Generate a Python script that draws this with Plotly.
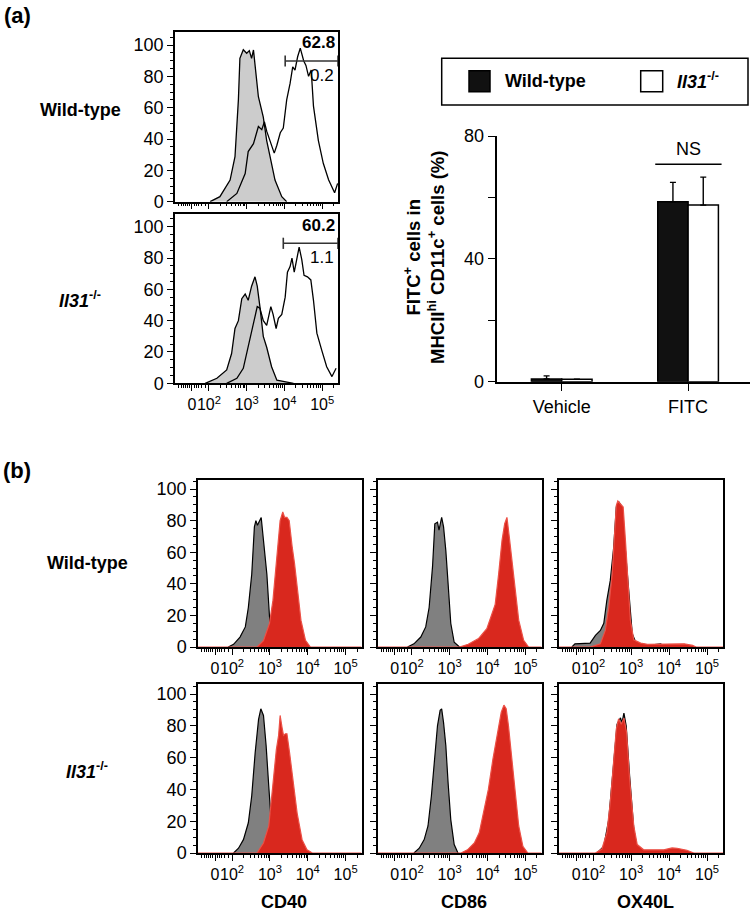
import math
import plotly.graph_objects as go

W, H = 750, 913
FONT = "Liberation Sans, Arial, sans-serif"

# ---------------- data ----------------
# (a) FITC histograms, x in log10 display units (0 drawn at 1.55), y = % of max
a_wt_veh_x = [2.03, 2.29, 2.56, 2.69, 2.78, 2.82, 2.91, 3.00, 3.07, 3.13, 3.18, 3.22, 3.31, 3.44, 3.53, 3.62, 3.75, 3.93, 4.06]
a_wt_veh_y = [0, 3.2, 13.8, 28.7, 65, 91.5, 97, 94.7, 96.4, 91.5, 96.8, 86, 67, 54, 39, 28.7, 13.8, 3.2, 0]
a_wt_fitc_x = [2.47, 2.74, 2.96, 3.04, 3.18, 3.31, 3.40, 3.47, 3.53, 3.62, 3.73, 3.80, 3.89, 3.97, 4.06,
               4.15, 4.22, 4.28, 4.35, 4.42, 4.51, 4.57, 4.64, 4.71, 4.77, 4.90, 5.03, 5.17, 5.33, 5.41]
a_wt_fitc_y = [0, 5.3, 18, 32, 37, 48, 46, 51, 45, 38, 31, 36, 44, 47, 65,
               75.5, 86, 84, 92.5, 98, 90, 87, 80, 84, 61, 39, 24.5, 14, 5.7, 11.7]

a_ko_veh_x = [1.90, 2.21, 2.47, 2.60, 2.69, 2.78, 2.87, 2.96, 3.04, 3.13, 3.22, 3.28, 3.35, 3.44, 3.53, 3.66, 3.80, 4.06, 4.24]
a_ko_veh_y = [0, 3.2, 8.5, 19, 35, 40, 54, 57, 53, 62, 68, 62, 49, 30, 23, 10.6, 2, 1, 0]
a_ko_fitc_x = [2.47, 2.74, 2.91, 3.04, 3.18, 3.28, 3.35, 3.44, 3.53, 3.64, 3.70, 3.78, 3.84, 3.93, 4.02, 4.08,
               4.15, 4.20, 4.26, 4.31, 4.39, 4.46, 4.52, 4.61, 4.70, 4.77, 4.86, 4.99, 5.12, 5.26, 5.37]
a_ko_fitc_y = [0, 3.2, 9.6, 23, 39, 49, 48, 40, 37, 49, 44, 35, 41.5, 44, 55, 71,
               74.5, 80, 71, 78, 87, 79, 69, 68, 66, 53, 32, 21, 10.6, 4.3, 9.6]

# gates: (start, y, percent above, percent below)
gate_wt = [4.02, 89.8, "62.8", "0.2"]
gate_ko = [3.97, 89.4, "60.2", "1.1"]

# (a) bar chart
bar_groups = ["Vehicle", "FITC"]
bar_wt = [0.9, 58.6]
bar_wt_err = [1.0, 6.3]
bar_ko = [0.8, 57.5]
bar_ko_err = [0, 9.1]
ns_y = 70.8

# (b) CD40 / CD86 / OX40L histograms: isotype (gray) and stained (red)
cd40_wt_iso_x = [1.90, 2.04, 2.21, 2.35, 2.43, 2.52, 2.59, 2.63, 2.67, 2.72, 2.77, 2.83, 2.92, 2.99, 3.05, 3.10]
cd40_wt_iso_y = [0, 1.7, 6.3, 12.7, 25, 46, 76, 80, 77, 80, 82, 67.5, 46, 19, 4.2, 0]
cd40_wt_x = [1.10, 2.66, 2.83, 2.99, 3.08, 3.14, 3.20, 3.27, 3.34, 3.39, 3.45, 3.51, 3.59, 3.65, 3.74, 3.82, 3.94, 4.07, 5.42]
cd40_wt_y = [0, 0, 4, 15, 29.5, 46, 61, 80, 85.5, 82, 82, 80, 63, 53, 34, 17, 4.2, 0, 0]

cd86_wt_iso_x = [1.89, 2.06, 2.24, 2.37, 2.46, 2.55, 2.61, 2.68, 2.72, 2.79, 2.84, 2.90, 2.96, 3.03, 3.12, 3.26]
cd86_wt_iso_y = [0, 2, 6.3, 12.7, 25, 51, 78, 79, 74, 82, 76, 61, 40, 15, 3, 0]
cd86_wt_x = [1.10, 3.26, 3.49, 3.76, 3.98, 4.11, 4.20, 4.29, 4.38, 4.45, 4.51, 4.57, 4.64, 4.71, 4.82, 4.95, 5.08, 5.42]
cd86_wt_y = [0, 0, 1.7, 5.3, 11.6, 21, 27, 46, 67.5, 78, 82, 70, 55, 38, 17, 4.2, 0, 0]

ox40l_wt_iso_x = [1.44, 1.52, 1.92, 2.06, 2.19, 2.28, 2.36, 2.45, 2.54, 2.61, 2.67, 2.76, 2.85, 2.94, 3.03, 3.12, 3.25, 3.43, 3.78, 3.87]
ox40l_wt_iso_y = [0, 2, 2.5, 7.4, 10.5, 15, 29.5, 42, 63, 88.6, 92, 88.6, 61, 36, 8.4, 3, 2, 1, 2, 0]
ox40l_wt_x = [1.10, 1.92, 2.19, 2.32, 2.41, 2.50, 2.56, 2.61, 2.65, 2.72, 2.79, 2.85, 2.91, 2.98, 3.07, 3.25, 3.43, 3.96, 4.40, 4.62, 4.71, 5.42]
ox40l_wt_y = [0, 0, 2, 10.5, 25, 46, 70, 89.7, 92.4, 90.7, 88.6, 67.5, 42, 17, 4.6, 2.5, 1.7, 2, 2, 1, 0, 0]

cd40_ko_iso_x = [2.04, 2.17, 2.30, 2.43, 2.52, 2.61, 2.70, 2.76, 2.83, 2.90, 2.97, 3.03, 3.10, 3.17]
cd40_ko_iso_y = [0, 3, 8.4, 19, 36, 63, 84, 90.7, 86.5, 67.5, 42, 21, 4.2, 0]
cd40_ko_x = [1.10, 2.66, 2.83, 2.97, 3.05, 3.12, 3.17, 3.23, 3.27, 3.32, 3.36, 3.41, 3.45, 3.52, 3.61, 3.72, 3.85, 3.98, 4.12, 5.42]
cd40_ko_y = [0, 0, 6.3, 17, 36, 55, 65, 74, 86.5, 79, 74, 75, 75, 63, 46, 25, 8.4, 2, 0, 0]

cd86_ko_iso_x = [2.06, 2.20, 2.33, 2.43, 2.52, 2.61, 2.68, 2.75, 2.79, 2.84, 2.90, 2.96, 3.03, 3.12, 3.22]
cd86_ko_iso_y = [0, 3, 8.4, 17, 36, 61, 80, 89.7, 90.7, 82, 67.5, 44, 21, 5.3, 0]
cd86_ko_x = [1.10, 3.30, 3.47, 3.65, 3.78, 3.91, 4.02, 4.14, 4.25, 4.36, 4.43, 4.49, 4.55, 4.62, 4.71, 4.82, 4.93, 5.06, 5.42]
cd86_ko_y = [0, 0, 2, 6.3, 12.7, 27.4, 40, 59, 74, 88.6, 93, 90.7, 80, 63, 40, 17, 4.2, 0, 0]

ox40l_ko_iso_x = [2.10, 2.28, 2.41, 2.52, 2.63, 2.72, 2.76, 2.81, 2.87, 2.96, 3.07, 3.16, 3.29]
ox40l_ko_iso_y = [0, 4.2, 21, 53, 81, 85, 82, 88, 80, 48.5, 15, 3, 0]
ox40l_ko_x = [1.10, 2.06, 2.23, 2.36, 2.45, 2.54, 2.61, 2.67, 2.74, 2.81, 2.88, 2.96, 3.07, 3.16, 3.33, 3.86, 4.08, 4.21, 4.47, 4.65, 5.42]
ox40l_ko_y = [0, 0, 2.5, 12.7, 31.6, 59, 78, 84.4, 81, 84.8, 76, 46.4, 17, 5.3, 2, 2, 3.2, 3, 1.7, 0, 0]

marker_names = ["CD40", "CD86", "OX40L"]

# axis ticks for the logicle-like scale
x_major = [1.55, 2, 3, 4, 5]
x_major_text = ["0", "10<sup>2</sup>", "10<sup>3</sup>", "10<sup>4</sup>", "10<sup>5</sup>"]
x_minor = [1.2, 1.27, 1.33, 1.38, 1.43, 1.49, 1.62, 1.67, 1.73, 1.8, 1.9]
x_minor += [k + math.log10(m) for k in (2, 3, 4, 5) for m in range(2, 10) if k + math.log10(m) < 5.42]

# ---------------- layout helpers ----------------
def px_x(p):
    return p / W


def px_y(p):
    return 1 - p / H


layout = dict(width=W, height=H, margin=dict(l=0, r=0, t=0, b=0, autoexpand=False),
              template="none",
              paper_bgcolor="white", plot_bgcolor="white", showlegend=False,
              font=dict(family=FONT, color="black"), shapes=[], annotations=[])


def label(text, x, y, size, xanchor="center"):
    # free text placed in figure pixels
    layout["annotations"].append(dict(x=px_x(x), y=px_y(y), xref="paper", yref="paper",
                                      text=text, showarrow=False, xanchor=xanchor,
                                      yanchor="middle", font=dict(size=size)))


def hist_axes(n, left, right, top, zero, y100, xlayer="above traces", xlabels=True):
    s = "" if n == 1 else str(n)
    ymax = (zero - top) / ((zero - y100) / 100)
    layout["xaxis" + s] = dict(
        domain=[px_x(left), px_x(right)], range=[1.1, 5.42], anchor="y" + s,
        automargin=False, showticklabels=xlabels,
        tickmode="array", tickvals=x_major, ticktext=x_major_text, tickangle=0,
        ticks="outside", ticklen=6, tickwidth=1.2, tickcolor="black",
        tickfont=dict(size=16), showline=True, mirror=True, linecolor="black",
        linewidth=1.5, showgrid=False, zeroline=False, layer=xlayer,
        minor=dict(tickmode="array", tickvals=x_minor, ticks="outside",
                   ticklen=3, tickwidth=1, tickcolor="black", showgrid=False))
    layout["yaxis" + s] = dict(
        domain=[px_y(zero), px_y(top)], range=[0, ymax], anchor="x" + s,
        automargin=False,
        tickmode="array", tickvals=[0, 20, 40, 60, 80, 100],
        ticks="outside", ticklen=6, tickwidth=1.2, tickcolor="black",
        tickfont=dict(size=18), showline=True, mirror=True, linecolor="black",
        linewidth=1.5, showgrid=False, zeroline=False, layer=xlayer,
        minor=dict(dtick=5, ticks="outside", ticklen=3, tickwidth=1,
                   tickcolor="black", showgrid=False))
    return "x" + s, "y" + s


fig = go.Figure()

# ---------------- (a) histograms ----------------
a_panels = [
    (1, 32, 201.7, 45, a_wt_veh_x, a_wt_veh_y, a_wt_fitc_x, a_wt_fitc_y, gate_wt, False),
    (2, 214, 383.3, 226.7, a_ko_veh_x, a_ko_veh_y, a_ko_fitc_x, a_ko_fitc_y, gate_ko, True),
]
for n, top, zero, y100, vx, vy, fx, fy, gate, lab in a_panels:
    xa, ya = hist_axes(n, 175, 338, top, zero, y100, xlabels=lab)
    fig.add_trace(go.Scatter(x=vx, y=vy, mode="lines", fill="tozeroy",
                             fillcolor="rgb(204,204,204)",
                             line=dict(color="black", width=1.3),
                             xaxis=xa, yaxis=ya))
    fig.add_trace(go.Scatter(x=fx, y=fy, mode="lines",
                             line=dict(color="black", width=1.3),
                             xaxis=xa, yaxis=ya))
    g0, gy, above, below = gate
    fig.add_trace(go.Scatter(x=[g0, 5.42], y=[gy, gy], mode="lines+markers",
                             line=dict(color="#333333", width=1.6),
                             marker=dict(symbol="line-ns", size=8,
                                         line=dict(color="#333333", width=1.6)),
                             cliponaxis=False, xaxis=xa, yaxis=ya))
    layout["annotations"].append(dict(x=5.39, y=gy + 11.5, xref=xa, yref=ya,
                                      text="<b>" + above + "</b>", showarrow=False,
                                      xanchor="right", yanchor="middle", font=dict(size=17)))
    layout["annotations"].append(dict(x=5.36, y=gy - 9, xref=xa, yref=ya,
                                      text=below, showarrow=False,
                                      xanchor="right", yanchor="middle", font=dict(size=17)))

# ---------------- (a) bar chart ----------------
layout["xaxis3"] = dict(domain=[px_x(497.3), 1], range=[-0.51, 1.49], anchor="y3",
                        automargin=False,
                        type="category", showline=True, linecolor="black", linewidth=1.5,
                        ticks="outside", ticklen=8, tickwidth=1.2, tickcolor="black",
                        tickfont=dict(size=18), showgrid=False, zeroline=False)
layout["yaxis3"] = dict(domain=[px_y(381.7), px_y(136)], range=[0, 80], anchor="x3",
                        automargin=False,
                        tickmode="array", tickvals=[0, 20, 40, 60, 80],
                        ticktext=["0", "", "40", "", "80"],
                        showline=True, linecolor="black", linewidth=1.5,
                        ticks="outside", ticklen=8, tickwidth=1.2, tickcolor="black",
                        tickfont=dict(size=18), showgrid=False, zeroline=False)
layout["barmode"] = "group"
layout["bargap"] = 0.52
layout["bargroupgap"] = 0
err_style = dict(type="data", symmetric=False, color="black", thickness=1.4, width=3)
fig.add_trace(go.Bar(x=bar_groups, y=bar_wt, name="Wild-type",
                     marker=dict(color="#111111", line=dict(color="black", width=1.5)),
                     error_y=dict(array=bar_wt_err, arrayminus=[0, 0], **err_style),
                     xaxis="x3", yaxis="y3"))
fig.add_trace(go.Bar(x=bar_groups, y=bar_ko, name="Il31-/-",
                     marker=dict(color="white", line=dict(color="black", width=1.5)),
                     error_y=dict(array=bar_ko_err, arrayminus=[0, 0], **err_style),
                     xaxis="x3", yaxis="y3"))
layout["shapes"].append(dict(type="line", xref="x3", yref="y3", x0=0.74, x1=1.265,
                             y0=ns_y, y1=ns_y, line=dict(color="black", width=1.3)))
layout["annotations"].append(dict(x=1, y=ns_y + 5, xref="x3", yref="y3", text="NS",
                                  showarrow=False, yanchor="middle", font=dict(size=18)))
layout["annotations"].append(dict(x=px_x(424), y=px_y(258), xref="paper", yref="paper",
                                  xanchor="center", yanchor="middle",
                                  text="<b>FITC<sup>+</sup> cells in<br>MHCII<sup>hi</sup> CD11c<sup>+</sup> cells (%)</b>",
                                  textangle=-90, showarrow=False, font=dict(size=18.5)))

# legend box drawn by hand
layout["shapes"].append(dict(type="rect", xref="paper", yref="paper",
                             x0=px_x(441.7), x1=px_x(748), y0=px_y(105), y1=px_y(58.3),
                             line=dict(color="black", width=1.5)))
layout["shapes"].append(dict(type="rect", xref="paper", yref="paper",
                             x0=px_x(469), x1=px_x(490), y0=px_y(91.7), y1=px_y(70.7),
                             fillcolor="#111111", line=dict(color="black", width=1.5)))
layout["shapes"].append(dict(type="rect", xref="paper", yref="paper",
                             x0=px_x(640.7), x1=px_x(662.7), y0=px_y(91.7), y1=px_y(70.7),
                             fillcolor="white", line=dict(color="black", width=1.5)))
label("<b>Wild-type</b>", 503, 81, 18, xanchor="left")
label("<b><i>Il31</i><sup>-/-</sup></b>", 675, 81, 18, xanchor="left")

# ---------------- (b) histograms ----------------
cols = [(198, 361.5), (377.5, 541.5), (559, 723)]
rows = [(480, 647, 489), (684, 853, 694)]
b_data = [
    [(cd40_wt_iso_x, cd40_wt_iso_y, cd40_wt_x, cd40_wt_y),
     (cd86_wt_iso_x, cd86_wt_iso_y, cd86_wt_x, cd86_wt_y),
     (ox40l_wt_iso_x, ox40l_wt_iso_y, ox40l_wt_x, ox40l_wt_y)],
    [(cd40_ko_iso_x, cd40_ko_iso_y, cd40_ko_x, cd40_ko_y),
     (cd86_ko_iso_x, cd86_ko_iso_y, cd86_ko_x, cd86_ko_y),
     (ox40l_ko_iso_x, ox40l_ko_iso_y, ox40l_ko_x, ox40l_ko_y)],
]
n = 4
for r, (top, zero, y100) in enumerate(rows):
    for c, (left, right) in enumerate(cols):
        xa, ya = hist_axes(n, left, right, top, zero, y100, xlayer="below traces")
        if c > 0:
            layout["yaxis" + str(n)]["showticklabels"] = False
        ix, iy, sx, sy = b_data[r][c]
        fig.add_trace(go.Scatter(x=ix, y=iy, mode="lines", fill="tozeroy",
                                 fillcolor="rgb(128,128,128)",
                                 line=dict(color="black", width=1.2),
                                 xaxis=xa, yaxis=ya))
        fig.add_trace(go.Scatter(x=sx, y=sy, mode="lines", fill="tozeroy",
                                 fillcolor="rgb(217,40,30)",
                                 line=dict(color="rgb(236,80,70)", width=1.2),
                                 xaxis=xa, yaxis=ya))
        n += 1

for c, name in enumerate(marker_names):
    label("<b>" + name + "</b>", (cols[c][0] + cols[c][1]) / 2 + 4, 902, 18)

# row labels and panel letters
label("<b>(a)</b>", 17, 16, 22)
label("<b>(b)</b>", 17, 470, 22)
label("<b>Wild-type</b>", 80, 110, 18)
label("<b><i>Il31</i><sup>-/-</sup></b>", 80, 300, 18)
label("<b>Wild-type</b>", 87, 563, 18)
label("<b><i>Il31</i><sup>-/-</sup></b>", 87, 770, 18)

fig.update_layout(**layout)
# page body has a default 8px margin; drop it so the figure sits at the window origin
fig.write_html("out.html", config={"displayModeBar": False},
               post_script="document.body.style.margin = '0';")
